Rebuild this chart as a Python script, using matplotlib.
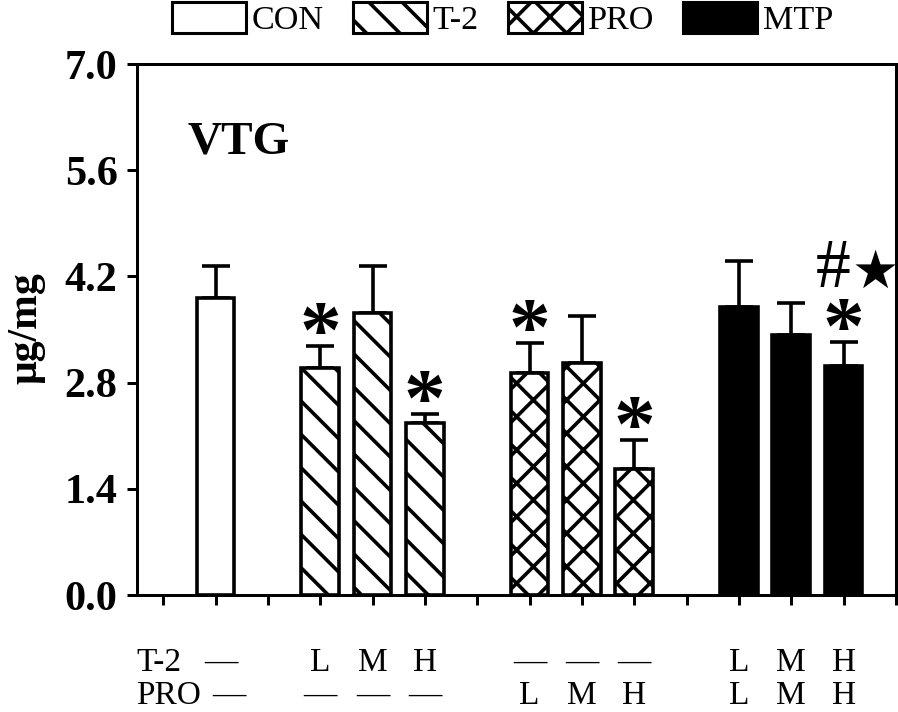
import matplotlib
matplotlib.use("Agg")
import matplotlib.pyplot as plt
from matplotlib.patches import Patch
from matplotlib.transforms import blended_transform_factory

# ---- data ----
groups = ["CON", "T-2", "PRO", "MTP"]
positions = [1, 3, 4, 5, 7, 8, 9, 11, 12, 13]
bar_group = ["CON", "T-2", "T-2", "T-2", "PRO", "PRO", "PRO", "MTP", "MTP", "MTP"]
values = [3.92, 2.99, 3.72, 2.27, 2.93, 3.06, 1.66, 3.80, 3.43, 3.02]
errors = [0.42, 0.29, 0.62, 0.12, 0.39, 0.62, 0.38, 0.60, 0.42, 0.32]
star_marks = [False, True, False, True, True, False, True, False, False, True]
hash_marks = [False, False, False, False, False, False, False, False, False, True]
row_t2 = ["\u2014", "L", "M", "H", "\u2014", "\u2014", "\u2014", "L", "M", "H"]
row_pro = ["\u2014", "\u2014", "\u2014", "\u2014", "L", "M", "H", "L", "M", "H"]
yticks = [0.0, 1.4, 2.8, 4.2, 5.6, 7.0]

styles = {
    "CON": dict(facecolor="white", hatch=""),
    "T-2": dict(facecolor="white", hatch="\\\\"),
    "PRO": dict(facecolor="white", hatch="xx"),
    "MTP": dict(facecolor="black", hatch=""),
}

plt.rcParams["font.family"] = ["Liberation Serif", "DejaVu Sans"]
plt.rcParams["hatch.linewidth"] = 1.3
plt.rcParams["hatch.color"] = "black"

fig = plt.figure(figsize=(4.49, 3.56), dpi=200)
ax = fig.add_axes([137 / 898, 1 - 595 / 712, (896 - 137) / 898, (595 - 64) / 712])

for x, g, v, e in zip(positions, bar_group, values, errors):
    st = styles[g]
    ax.bar(x, v, width=0.72, facecolor=st["facecolor"], edgecolor="black",
           hatch=st["hatch"], linewidth=1.3, zorder=3)
    ax.errorbar(x, v, yerr=[[0], [e]], fmt="none", ecolor="black",
                elinewidth=1.3, capsize=5, capthick=1.3, zorder=2)

for x, v, e, s, h in zip(positions, values, errors, star_marks, hash_marks):
    top = v + e
    if s:
        ax.annotate("*", xy=(x, top), xytext=(0, -4.0), textcoords="offset points",
                    ha="center", va="baseline", fontsize=30, fontweight="bold",
                    family="Liberation Serif")
    if h:
        ax.annotate("#", xy=(x, top), xytext=(2.5, 19.5), textcoords="offset points",
                    ha="right", va="baseline", fontsize=25,
                    family="Liberation Serif")
        ax.annotate("\u2605", xy=(x, top), xytext=(3.0, 19.5), textcoords="offset points",
                    ha="left", va="baseline", fontsize=19, family="DejaVu Sans")

ax.set_xlim(-0.5, 14.0)
ax.set_ylim(0, 7.0)
ax.set_yticks(yticks)
ax.set_yticklabels([f"{t:.1f}" for t in yticks], fontsize=15.2, fontweight="bold")
ax.set_xticks(range(0, 15))
ax.set_xticklabels([])
ax.tick_params(axis="both", direction="out", length=3.6, width=1.08, pad=3.4)
for sp in ax.spines.values():
    sp.set_linewidth(1.08)

ax.text(0.134, 0.853, "VTG", transform=ax.transAxes, fontsize=17,
        fontweight="bold", ha="center", va="center")

fig.text(26 / 898, 1 - 328 / 712, "\u03bcg/mg", rotation=90, fontsize=15,
         fontweight="bold", ha="center", va="center")

trans = blended_transform_factory(ax.transData, ax.transAxes)
for i, (x, a, b) in enumerate(zip(positions, row_t2, row_pro)):
    dx1 = 0.1 if i == 0 else 0.0
    dx2 = 0.25 if i == 0 else 0.0
    ax.text(x + dx1, -0.128, a, transform=trans, ha="center", va="center", fontsize=12)
    ax.text(x + dx2, -0.190, b, transform=trans, ha="center", va="center", fontsize=12)
fig.text(136 / 898, 1 - 663 / 712, "T-2", ha="left", va="center", fontsize=12)
fig.text(136 / 898, 1 - 696 / 712, "PRO", ha="left", va="center", fontsize=12)

handles = [Patch(facecolor=styles[g]["facecolor"], edgecolor="black",
                 hatch=styles[g]["hatch"], linewidth=1.1) for g in groups]
fig.legend(handles, groups, ncol=4, loc="upper left",
           bbox_to_anchor=(170 / 898, 1.0), frameon=False, fontsize=12.3,
           handlelength=2.16, handleheight=1.05, handletextpad=0.18,
           columnspacing=0.85, borderpad=0.05, borderaxespad=0)

fig.savefig("out.png", dpi=200)
